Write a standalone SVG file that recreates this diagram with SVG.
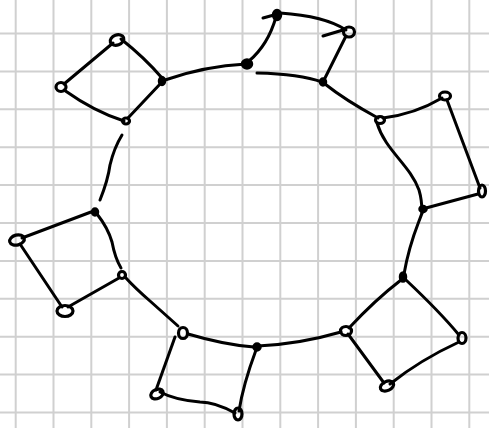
<svg xmlns="http://www.w3.org/2000/svg" width="489" height="428" viewBox="0 0 489 428">
<style>
.grid{stroke:#d0d0d0;stroke-width:2;fill:none}
.e{stroke:#000;stroke-width:3;fill:none;stroke-linecap:round;stroke-linejoin:round}
.n{stroke:#000;stroke-width:3.2;fill:none}
.f{stroke:#000;stroke-width:2.5;fill:#000}
</style>
<rect width="489" height="428" fill="#fff"/>
<path class="grid" d="M15.7 0V428M53.5 0V428M91.3 0V428M129.1 0V428M166.9 0V428M204.7 0V428M242.5 0V428M280.3 0V428M318.1 0V428M355.9 0V428M393.7 0V428M431.5 0V428M469.3 0V428M0 33.5H489M0 71.4H489M0 109.3H489M0 147.2H489M0 185.1H489M0 223H489M0 260.9H489M0 298.8H489M0 336.7H489M0 374.6H489M0 412.5H489"/>
<g id="connectors">
<path class="e" d="M113 43 L64 84"/>
<path class="e" d="M64 90 Q95 112 124 121"/>
<path class="e" d="M128 118 L161 83"/>
<path class="e" d="M121 39 Q145 58 162 78"/>
<path class="e" d="M165 80 Q205 66 246 64"/>
<path class="e" d="M249 61 Q268 45 276 17"/>
<path class="e" d="M280 13 Q325 16 346 30"/>
<path class="e" d="M263 18 L274 15"/>
<path class="e" d="M323 36 L343 30"/>
<path class="e" d="M346 36 L324 80"/>
<path class="e" d="M257 73 Q300 74 322 82"/>
<path class="e" d="M325 84 Q345 100 378 118"/>
<path class="e" d="M383 118 Q415 114 442 98"/>
<path class="e" d="M447 100 L480 188"/>
<path class="e" d="M478 194 L426 208"/>
<path class="e" d="M377 123 C385 150 410 165 419 190 Q422 200 422 213"/>
<path class="e" d="M422 213 C418 225 410 240 404 274"/>
<path class="e" d="M406 280 Q440 312 459 335"/>
<path class="e" d="M459 342 Q420 360 390 384"/>
<path class="e" d="M384 383 L348 334"/>
<path class="e" d="M349 328 Q375 300 401 280"/>
<path class="e" d="M341 332 Q300 344 258 346"/>
<path class="e" d="M256 350 Q243 385 239 411"/>
<path class="e" d="M235 413 Q215 402 200 402 Q175 400 160 392"/>
<path class="e" d="M156 390 L175 337"/>
<path class="e" d="M188 334 Q225 345 254 347"/>
<path class="e" d="M178 326 Q160 310 150 301 Q135 288 125 277"/>
<path class="e" d="M119 278 L68 307"/>
<path class="e" d="M62 307 L20 244"/>
<path class="e" d="M22 238 L91 212"/>
<path class="e" d="M97 214 Q108 228 112 242 Q115 258 121 268"/>
<path class="e" d="M100 200 Q108 180 110 165 Q114 148 122 135"/>
</g>
<g id="n1"><ellipse class="n" cx="117" cy="40" rx="7" ry="5" transform="rotate(-20 117 40)"/></g>
<g id="n2"><ellipse class="n" cx="61" cy="87" rx="5" ry="4.5"/></g>
<g id="n3"><ellipse class="n" cx="126" cy="121" rx="3.5" ry="3"/></g>
<g id="n4"><ellipse class="f" cx="162" cy="81" rx="3" ry="4"/></g>
<g id="n5"><ellipse class="f" cx="247" cy="64" rx="5" ry="4.5"/></g>
<g id="n6"><ellipse class="f" cx="277" cy="15" rx="4" ry="5"/></g>
<g id="n7"><ellipse class="n" cx="349" cy="32" rx="5.5" ry="5"/></g>
<g id="n8"><ellipse class="f" cx="323" cy="82" rx="3" ry="3.5"/></g>
<g id="n9"><ellipse class="n" cx="380" cy="120" rx="4.5" ry="3.5"/></g>
<g id="n10"><ellipse class="n" cx="445" cy="96" rx="5.5" ry="4"/></g>
<g id="n11"><ellipse class="n" cx="482" cy="191" rx="3.5" ry="6"/></g>
<g id="n12"><ellipse class="f" cx="423" cy="209" rx="3.5" ry="3"/></g>
<g id="n13"><ellipse class="f" cx="403" cy="277" rx="3" ry="4.5"/></g>
<g id="n14"><ellipse class="n" cx="462" cy="338" rx="4" ry="5.5"/></g>
<g id="n15"><ellipse class="n" cx="387" cy="386" rx="7" ry="4.5" transform="rotate(-25 387 386)"/></g>
<g id="n16"><ellipse class="n" cx="346" cy="331" rx="5.5" ry="4.5"/></g>
<g id="n17"><ellipse class="f" cx="257" cy="347" rx="3.5" ry="3.5"/></g>
<g id="n18"><ellipse class="n" cx="238" cy="414" rx="4" ry="6"/></g>
<g id="n19"><ellipse class="n" cx="157" cy="394" rx="6.5" ry="4.5" transform="rotate(-25 157 394)"/></g>
<g id="n20"><ellipse class="n" cx="183" cy="333" rx="4.5" ry="5.5"/></g>
<g id="n21"><ellipse class="n" cx="122" cy="275" rx="3.5" ry="3.5"/></g>
<g id="n22"><ellipse class="n" cx="65" cy="311" rx="8" ry="5.5"/></g>
<g id="n23"><ellipse class="n" cx="17" cy="240" rx="7.5" ry="5" transform="rotate(-15 17 240)"/></g>
<g id="n24"><ellipse class="f" cx="95" cy="212" rx="3" ry="3.5"/></g>
</svg>
